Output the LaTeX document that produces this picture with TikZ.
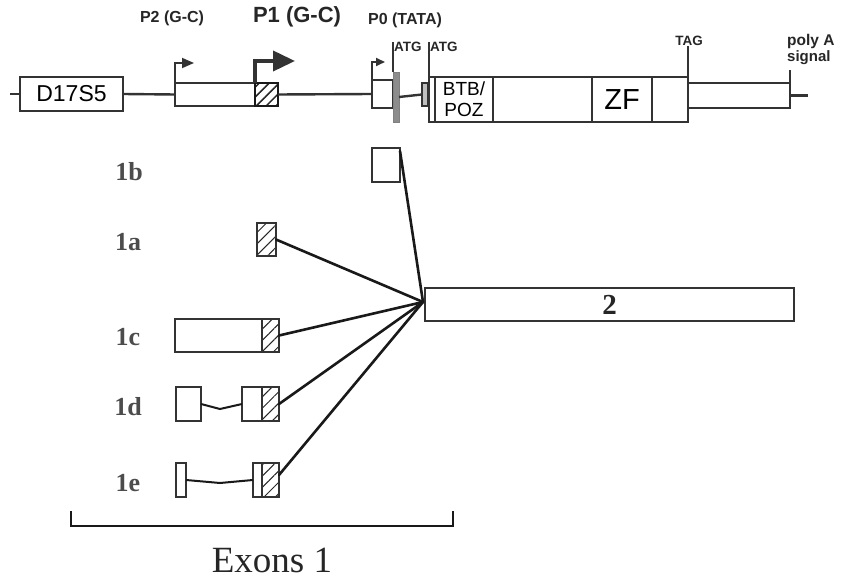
\documentclass[tikz,border=0pt]{standalone}
\usepackage{fontspec}
\setmainfont{Liberation Serif}
\setsansfont{Liberation Sans}
\usetikzlibrary{arrows.meta,patterns.meta,calc}
\begin{document}
\begin{tikzpicture}[x=1pt,y=-1pt,
  box/.style={draw=black!80, line width=1.8pt, fill=white, inner sep=0pt, outer sep=0pt, anchor=north west},
  hatch/.style={box, pattern={Lines[angle=45,distance=8pt,line width=1pt]}, pattern color=black!85},
  cell/.style={box, line width=2.1pt, minimum height=45pt},
  bb/.style={draw=black!80, line width=2.4pt},
  tick/.style={draw=black!80, line width=1.8pt},
  prom/.style={draw=black!80, line width=1.8pt, line join=miter},
  conn/.style={draw=black!90, line width=2.6pt, line cap=round},
  intron/.style={draw=black!90, line width=2pt},
  lab/.style={font=\bfseries\fontsize{26}{26}\selectfont, text=black!70, inner sep=0pt},
  toplab/.style={font=\sffamily\bfseries, text=black!85, inner sep=0pt},
  small/.style={font=\sffamily\bfseries\fontsize{13.5}{13.5}\selectfont, text=black!85, inner sep=0pt}
]
\useasboundingbox (0,0) rectangle (841,580);

% ---------- gene map ----------
\coordinate (start) at (10,94);
\node[box, minimum width=103pt, minimum height=34pt, font=\sffamily\fontsize{23}{23}\selectfont] (d17) at (20,77) {D17S5};
\node[box, minimum width=80pt, minimum height=23pt] (p2) at (175,83) {};
\node[box, draw=black!90, line width=2.6pt, minimum width=23pt, minimum height=23pt,
      pattern={Lines[angle=45,distance=7pt,line width=1.5pt]}, pattern color=black!85] (p1) at (255,83) {};
\node[box, minimum width=21pt, minimum height=28pt] (p0) at (372,80) {};
\node[box, draw=black!50, fill=black!45, line width=0.8pt, minimum width=6pt, minimum height=50pt] (gbar) at (393,72) {};
\node[box, fill=black!25, line width=1.8pt, minimum width=6pt, minimum height=23pt] (sbox) at (422,83) {};

\node[cell, minimum width=6pt] (c0) at (429,77) {};
\node[cell, minimum width=58pt, align=center, font=\sffamily\fontsize{19}{21}\selectfont] (btb) at (435,77) {BTB/\\POZ};
\node[cell, minimum width=99pt] (mid) at (493,77) {};
\node[cell, minimum width=60pt, font=\sffamily\fontsize{29}{29}\selectfont] (zf) at (592,77) {ZF};
\node[cell, minimum width=36pt] (c4) at (652,77) {};
\node[box, line width=2.1pt, minimum width=102pt, minimum height=25pt] (utr) at (688,83) {};

\draw[bb] (start) -- (d17.west);
\draw[bb] (d17.east) -- (p2.west);
\draw[bb] (p1.east) -- (p0.west);
\draw[bb] (gbar.east) -- (sbox.west);
\draw[bb] (utr.east) -- ++(18,0) coordinate (pend);

% promoters
\draw[prom, -{Triangle[length=12pt,width=10pt]}] (p2.north west) -- ++(0,-20) -- ++(19,0);
\draw[prom, line width=3.8pt, -{Triangle[length=22pt,width=20pt]}] (p1.north west) -- ++(0,-22) -- ++(40,0);
\draw[prom, -{Triangle[length=9pt,width=8pt]}] (p0.north west) -- ++(0,-18) -- ++(13,0);

\node[toplab, font=\sffamily\bfseries\fontsize{16}{16}\selectfont] (tp2) at (172,18) {P2 (G-C)};
\node[toplab, font=\sffamily\bfseries\fontsize{22}{22}\selectfont] (tp1) at (297,17) {P1 (G-C)};
\node[toplab, font=\sffamily\bfseries\fontsize{16}{16}\selectfont] (tp0) at (405,20) {P0 (TATA)};

% ATG / TAG / polyA
\node[small, anchor=west] (atg1) at (394,47) {ATG};
\node[small, anchor=west] (atg2) at (430,47) {ATG};
\node[small] (tag) at (689,41) {TAG};
\node[toplab, anchor=west, font=\sffamily\bfseries\fontsize{15.5}{15.5}\selectfont] (poly) at (787,41) {poly A};
\node[toplab, anchor=west, font=\sffamily\bfseries\fontsize{15}{15}\selectfont] (sig) at (787,58) {signal};

\draw[tick] (gbar.north west) -- (gbar.north west |- atg1.north);
\draw[tick] (c0.north west) -- (c0.north west |- atg2.north);
\draw[tick] (c4.north east) -- (c4.north east |- tag.south);
\draw[tick, line width=2.1pt] (utr.south east) -- ++(0,-38) coordinate (ptop);

% ---------- transcripts ----------
\node[box, minimum width=28pt, minimum height=34pt] (e1b) at (372,148) {};
\node[hatch, minimum width=19pt, minimum height=33pt] (e1a) at (257,223) {};

\node[box, minimum width=87pt, minimum height=33pt] (c1w) at (175,319) {};
\node[hatch, minimum width=17pt, minimum height=33pt] (c1h) at (262,319) {};

\node[box, minimum width=25pt, minimum height=34pt] (d1) at (176,387) {};
\node[box, minimum width=20pt, minimum height=34pt] (d2) at (242,387) {};
\node[hatch, minimum width=17pt, minimum height=34pt] (d3) at (262,387) {};

\node[box, minimum width=10pt, minimum height=34pt] (f1) at (176,463) {};
\node[box, minimum width=9pt, minimum height=34pt] (f2) at (253,463) {};
\node[hatch, minimum width=17pt, minimum height=34pt] (f3) at (262,463) {};

\node[box, minimum width=369pt, minimum height=33pt, font=\bfseries\fontsize{29}{29}\selectfont, text=black!85] (e2) at (425,288) {2};

\coordinate (dk) at (220,409);
\coordinate (fk) at (220,483);
\draw[intron] (d1.east) -- (dk) -- (d2.west);
\draw[intron] (f1.east) -- (fk) -- (f2.west);

\coordinate (conv) at (423,302);
\draw[conn] ($(e1b.north east)+(0,3)$) -- (conv);
\draw[conn] (e1a.east) -- (conv);
\draw[conn] (c1h.east) -- (conv);
\draw[conn] (d3.east) -- (conv);
\draw[conn] ($(f3.east)+(0,-5)$) -- (conv);

\node[lab] (l1b) at (129,172) {1b};
\node[lab] (l1a) at (128,242) {1a};
\node[lab] (l1c) at (128,337) {1c};
\node[lab] (l1d) at (128,407) {1d};
\node[lab] (l1e) at (128,483) {1e};

% bracket
\coordinate (bl) at (71,511);
\coordinate (br) at (453,511);
\draw[draw=black!90, line width=2.6pt] (bl) -- ++(0,15) -| (br);
\node[font=\fontsize{37}{37}\selectfont, text=black!85, inner sep=0pt] (ex) at (272,560) {Exons 1};
\end{tikzpicture}
\end{document}
